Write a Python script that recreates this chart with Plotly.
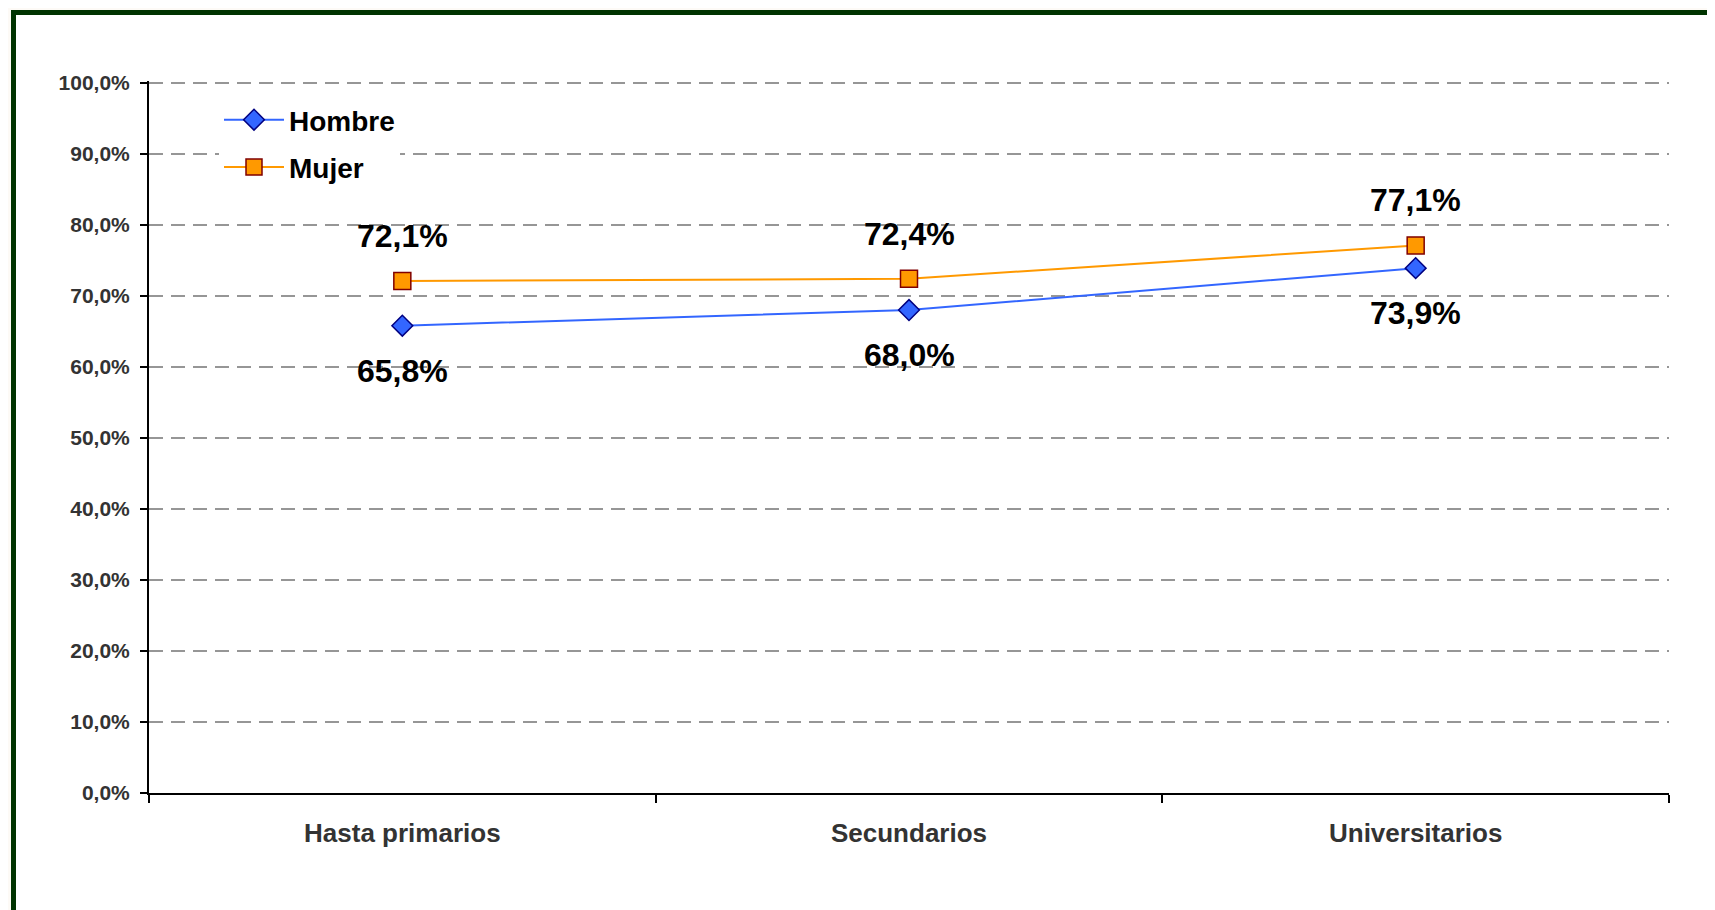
import plotly.graph_objects as go

categories = ["Hasta primarios", "Secundarios", "Universitarios"]
hombre = [65.8, 68.0, 73.9]
mujer = [72.1, 72.4, 77.1]
hombre_labels = ["65,8%", "68,0%", "73,9%"]
mujer_labels = ["72,1%", "72,4%", "77,1%"]
tick_vals = [0, 10, 20, 30, 40, 50, 60, 70, 80, 90, 100]
tick_text = ["0,0%", "10,0%", "20,0%", "30,0%", "40,0%", "50,0%",
             "60,0%", "70,0%", "80,0%", "90,0%", "100,0%"]

FONT = "Liberation Sans, Arial, sans-serif"

# page body has an 8px margin; compensate so the chart lands where the reference has it
OFF = 8
W, H = 1715 - OFF, 910 - OFF
L, R, T, B = 149 - OFF, 46, 81 - OFF, 117
PW, PH = W - L - R, H - T - B

fig = go.Figure()
fig.add_trace(go.Scatter(
    x=categories, y=hombre, name="Hombre", mode="lines+markers",
    legendgroup="h",
    line=dict(color="#3366FF", width=2),
    marker=dict(symbol="diamond", size=16, color="#3366FF",
                line=dict(color="#000080", width=1.5)),
))
fig.add_trace(go.Scatter(
    x=categories, y=mujer, name="Mujer", mode="lines+markers",
    legendgroup="m",
    line=dict(color="#FF9900", width=2),
    marker=dict(symbol="square", size=17, color="#FF9900",
                line=dict(color="#800000", width=1.5)),
))

for c, v, t in zip(categories, mujer, mujer_labels):
    fig.add_annotation(x=c, y=v, text=t, showarrow=False, yshift=45,
                       yanchor="middle",
                       font=dict(family=FONT, size=32, color="black", weight="bold"))
for c, v, t in zip(categories, hombre, hombre_labels):
    fig.add_annotation(x=c, y=v, text=t, showarrow=False, yshift=-45,
                       yanchor="middle",
                       font=dict(family=FONT, size=32, color="black", weight="bold"))

# slide frame
fig.add_shape(type="rect", xref="paper", yref="paper",
              x0=(13.5 - OFF - L) / PW, x1=(1740 - OFF - L) / PW,
              y0=-(H + 30 - (T + PH)) / PH, y1=(T + PH - (12.5 - OFF)) / PH,
              line=dict(color="#003300", width=5), fillcolor="white",
              layer="below")

fig.update_layout(
    width=W, height=H,
    margin=dict(l=L, r=R, t=T, b=B),
    paper_bgcolor="#FDFAF6", plot_bgcolor="rgba(0,0,0,0)",
    showlegend=True,
    legend=dict(x=(219 - OFF - L) / PW, y=(T + PH - (95 - OFF)) / PH,
                xanchor="left", yanchor="top",
                bgcolor="white", traceorder="grouped", tracegroupgap=8,
                itemwidth=60,
                font=dict(family=FONT, size=28, color="black", weight="bold")),
    xaxis=dict(
        type="category", range=[-0.5, 2.5], tickson="boundaries",
        showline=True, linecolor="black", linewidth=2,
        ticks="outside", ticklen=8, tickwidth=2, tickcolor="black",
        showgrid=False, zeroline=False,
        ticklabelstandoff=16,
        tickfont=dict(family=FONT, size=26, color="#333333", weight="bold"),
    ),
    yaxis=dict(
        range=[0, 100.25], tickvals=tick_vals, ticktext=tick_text,
        showline=True, linecolor="black", linewidth=2,
        ticks="outside", ticklen=7, tickwidth=2, tickcolor="black",
        showgrid=True, gridcolor="#969696", gridwidth=2, griddash="14px,8px",
        zeroline=False, ticklabelstandoff=6,
        tickfont=dict(family=FONT, size=21, color="#333333", weight="bold"),
    ),
)

fig.write_html("out.html")
